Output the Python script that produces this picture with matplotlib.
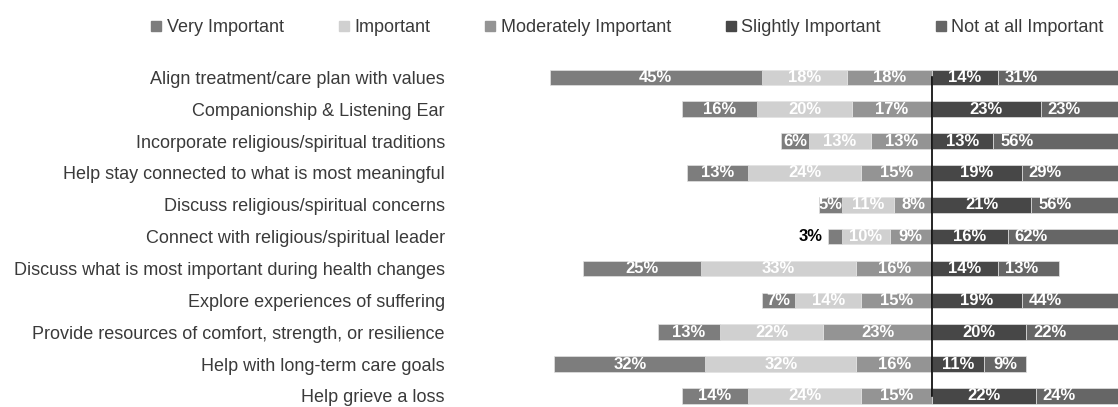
import numpy as np
import matplotlib
matplotlib.use('Agg')
import matplotlib.pyplot as plt
from matplotlib.lines import Line2D

plt.rcParams['font.family'] = ['Liberation Sans', 'DejaVu Sans']

# survey items, top to bottom
items = ["Align treatment/care plan with values",
         "Companionship & Listening Ear",
         "Incorporate religious/spiritual traditions",
         "Help stay connected to what is most meaningful",
         "Discuss religious/spiritual concerns",
         "Connect with religious/spiritual leader",
         "Discuss what is most important during health changes",
         "Explore experiences of suffering",
         "Provide resources of comfort, strength, or resilience",
         "Help with long-term care goals",
         "Help grieve a loss"]

# percent of respondents per rating
very_imp = [45, 16, 6, 13, 5, 3, 25, 7, 13, 32, 14]
imp = [18, 20, 13, 24, 11, 10, 33, 14, 22, 32, 24]
mod_imp = [18, 17, 13, 15, 8, 9, 16, 15, 23, 16, 15]
slight_imp = [14, 23, 13, 19, 21, 16, 14, 19, 20, 11, 22]
not_imp = [31, 23, 56, 29, 56, 62, 13, 44, 22, 9, 24]

names = ["Very Important", "Important", "Moderately Important",
         "Slightly Important", "Not at all Important"]
colors = ["#7d7d7d", "#d0d0d0", "#949494", "#474747", "#666666"]

very_imp = np.array(very_imp)
imp = np.array(imp)
mod_imp = np.array(mod_imp)
slight_imp = np.array(slight_imp)
not_imp = np.array(not_imp)

fig = plt.figure(figsize=(11.18, 4.07), dpi=100)
ax = fig.add_axes([450.5 / 1118, 0.0, 667.5 / 1118, 0.849])

y = np.arange(len(items))
h = 0.49
edge = dict(edgecolor='#e2e2e2', linewidth=0.5)

# left side is stacked outwards from zero, right side the same
left_vals = [mod_imp, imp, very_imp]
left_cols = [colors[2], colors[1], colors[0]]
start = np.zeros(len(items))
left_starts = []
for vals, c in zip(left_vals, left_cols):
    ax.barh(y, -vals, left=-start, height=h, color=c, **edge)
    left_starts.append(start.copy())
    start = start + vals

ax.barh(y, slight_imp, left=0, height=h, color=colors[3], **edge)
ax.barh(y, not_imp, left=slight_imp, height=h, color=colors[4], **edge)

lab_kw = dict(ha='center', va='center', fontsize=12, fontweight='bold',
              color='white')
for i in range(len(items)):
    for vals, s in zip(left_vals, left_starts):
        v = vals[i]
        if v < 4:
            # too small to fit inside, put it just outside the bar
            ax.text(-(s[i] + v) - 1.2, y[i], f"{v}%", ha='right', va='center',
                    fontsize=12, fontweight='bold', color='black')
        else:
            ax.text(-(s[i] + v / 2), y[i], f"{v}%", **lab_kw)
    ax.text(slight_imp[i] / 2, y[i], f"{slight_imp[i]}%", **lab_kw)
    ax.text(slight_imp[i] + min(not_imp[i] / 2, 5.0), y[i], f"{not_imp[i]}%", **lab_kw)

ax.plot([0, 0], [0, len(items) - 1], color='black', linewidth=1.2, zorder=5)

ax.set_xlim(-102, 39.4)
ax.set_ylim(10.35, -0.5)
ax.set_yticks(y)
ax.set_yticklabels(items, fontsize=13, color='#3a3a3a')
ax.tick_params(axis='y', length=0, pad=4)
ax.set_xticks([])
for sp in ax.spines.values():
    sp.set_visible(False)

handles = [Line2D([], [], marker='s', linestyle='', markersize=7.5,
                  markerfacecolor=c, markeredgecolor=c) for c in colors]
fig.legend(handles, names, loc='center', bbox_to_anchor=(0.561, 1 - 28 / 407),
           ncol=5, frameon=False, fontsize=13, handlelength=0.6,
           handletextpad=0.3, columnspacing=3.0, labelcolor='#3a3a3a')

fig.savefig('out.png', dpi=100)
